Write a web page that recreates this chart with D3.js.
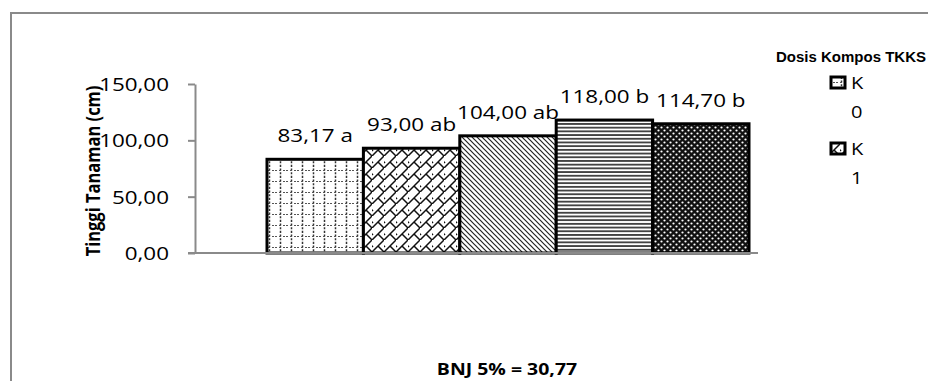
<!DOCTYPE html>
<html>
<head>
<meta charset="utf-8">
<script src="https://cdn.jsdelivr.net/npm/d3@7"></script>
<style>
  html, body { margin: 0; padding: 0; background: #fff; }
  svg { display: block; }
</style>
</head>
<body>
<svg id="chart" width="928" height="381"></svg>
<script>
// Treatment levels of TKKS compost and mean plant height (cm)
const categories = ["K0", "K1", "K2", "K3", "K4"];
const heights = [83.17, 93.00, 104.00, 118.00, 114.70];
const notations = ["a", "ab", "ab", "b", "b"];
const yTicks = [0, 50, 100, 150];
const legendTitle = "Dosis Kompos TKKS";
const legendShown = ["K0", "K1"];
const yTitle = "Tinggi Tanaman (cm)";
const footnote = "BNJ 5% = 30,77";

const svg = d3.select("#chart");
const W = 928, H = 381;
const sx = 1.18; // horizontal stretch applied to text glyphs

const fmt = v => d3.format(".2f")(v).replace(".", ",");

// ---- fill patterns ----
const defs = svg.append("defs");

// K0: dotted grid
const p0 = defs.append("pattern").attr("id", "pat0").attr("patternUnits", "userSpaceOnUse")
  .attr("width", 11).attr("height", 11);
p0.append("rect").attr("width", 11).attr("height", 11).attr("fill", "#fff");
p0.append("line").attr("x1", 5.5).attr("y1", 0).attr("x2", 5.5).attr("y2", 11)
  .attr("stroke", "#333").attr("stroke-width", 1.5).attr("stroke-dasharray", "2,1.6");
p0.append("line").attr("x1", 0).attr("y1", 5.5).attr("x2", 11).attr("y2", 5.5)
  .attr("stroke", "#555").attr("stroke-width", 1).attr("stroke-dasharray", "2,2");

// K1: diagonal brick
const p1 = defs.append("pattern").attr("id", "pat1").attr("patternUnits", "userSpaceOnUse")
  .attr("width", 12).attr("height", 12);
p1.append("rect").attr("width", 12).attr("height", 12).attr("fill", "#fff");
p1.append("path")
  .attr("d", "M-1,13 L13,-1 M6,6 L12,12 M-1,5 L1,7")
  .attr("stroke", "#111").attr("stroke-width", 1.5).attr("fill", "none");

// K2: wide downward diagonal
const p2 = defs.append("pattern").attr("id", "pat2").attr("patternUnits", "userSpaceOnUse")
  .attr("width", 5).attr("height", 5);
p2.append("rect").attr("width", 5).attr("height", 5).attr("fill", "#fff");
p2.append("path")
  .attr("d", "M-1,-1 L6,6 M-1,4 L1,6 M4,-1 L6,1")
  .attr("stroke", "#222").attr("stroke-width", 1.2).attr("fill", "none");

// K3: narrow horizontal lines
const p3 = defs.append("pattern").attr("id", "pat3").attr("patternUnits", "userSpaceOnUse")
  .attr("width", 6).attr("height", 3.7);
p3.append("rect").attr("width", 6).attr("height", 3.7).attr("fill", "#fff");
p3.append("rect").attr("y", 1).attr("width", 6).attr("height", 1.7).attr("fill", "#333");

// K4: dark with small white dots
const p4 = defs.append("pattern").attr("id", "pat4").attr("patternUnits", "userSpaceOnUse")
  .attr("width", 6).attr("height", 6);
p4.append("rect").attr("width", 6).attr("height", 6).attr("fill", "#111");
p4.append("circle").attr("cx", 1.5).attr("cy", 1.5).attr("r", 1.1).attr("fill", "#fff");
p4.append("circle").attr("cx", 4.5).attr("cy", 4.5).attr("r", 1.1).attr("fill", "#fff");

const fillOf = d3.scaleOrdinal().domain(categories)
  .range(["url(#pat0)", "url(#pat1)", "url(#pat2)", "url(#pat3)", "url(#pat4)"]);

// ---- chart frame ----
svg.append("path")
  .attr("d", `M11,${H + 5} L11,13 L${W + 5},13`)
  .attr("fill", "none").attr("stroke", "#8a8a8a").attr("stroke-width", 2);

// ---- scales ----
const y = d3.scaleLinear().domain([0, 150]).range([253, 84]);
const x = d3.scaleBand().domain(categories).range([267, 749]).padding(0);
const axisX0 = 195, axisX1 = 758;

// text helper: glyphs are stretched horizontally
function label(parent, px, py, str, anchor, size, weight, family) {
  const g = parent.append("g").attr("transform", `translate(${px},${py}) scale(${sx},1)`);
  g.append("text")
    .attr("text-anchor", anchor)
    .attr("font-family", family || "'Open Sans', 'DejaVu Sans', sans-serif")
    .attr("font-size", size)
    .attr("font-weight", weight || 400)
    .attr("fill", "#000")
    .text(str);
  return g;
}

// ---- y axis ----
const yAxis = svg.append("g").attr("transform", `translate(${axisX0},0)`)
  .call(d3.axisLeft(y).tickValues(yTicks).tickSize(7).tickSizeOuter(0).tickFormat(""));
yAxis.select(".domain").attr("stroke", "#8a8a8a").attr("stroke-width", 2);
yAxis.selectAll(".tick line").attr("stroke", "#8a8a8a").attr("stroke-width", 2);
yTicks.forEach(t => label(svg, axisX0 - 26, y(t) + 7, fmt(t), "end", 19));

// ---- bars ----
svg.append("g").selectAll("rect")
  .data(categories)
  .join("rect")
  .attr("x", d => x(d))
  .attr("y", (d, i) => y(heights[i]))
  .attr("width", x.bandwidth())
  .attr("height", (d, i) => y(0) - y(heights[i]))
  .attr("fill", d => fillOf(d))
  .attr("stroke", "#000")
  .attr("stroke-width", 3);

// ---- x axis line ----
svg.append("line")
  .attr("x1", axisX0 - 7).attr("x2", axisX1)
  .attr("y1", y(0)).attr("y2", y(0))
  .attr("stroke", "#8a8a8a").attr("stroke-width", 2);

// ---- value labels ----
categories.forEach((c, i) => {
  label(svg, x(c) + x.bandwidth() / 2, y(heights[i]) - 17,
    `${fmt(heights[i])} ${notations[i]}`, "middle", 19);
});

// ---- y axis title ----
svg.append("text")
  .attr("transform", `translate(100,171) rotate(-90) scale(1,${sx})`)
  .attr("text-anchor", "middle")
  .attr("font-family", "'Open Sans', 'DejaVu Sans', sans-serif")
  .attr("font-size", 16.5).attr("font-weight", 700)
  .text(yTitle);

// ---- footnote ----
label(svg, 507, 375, footnote, "middle", 16.5, 700);

// ---- legend ----
svg.append("text")
  .attr("x", 926).attr("y", 62)
  .attr("text-anchor", "end")
  .attr("font-family", "'Liberation Sans', Arial, sans-serif")
  .attr("font-size", 15).attr("font-weight", 700)
  .text(legendTitle);

const legend = svg.append("g");
legendShown.forEach((c, i) => {
  const top = 77 + i * 66;
  legend.append("rect")
    .attr("x", 831).attr("y", top).attr("width", 14).attr("height", 11)
    .attr("fill", fillOf(c)).attr("stroke", "#000").attr("stroke-width", 3);
  label(legend, 851, top + 12, c.slice(0, 1), "start", 17);
  label(legend, 851, top + 41, c.slice(1), "start", 17);
});
</script>
</body>
</html>
